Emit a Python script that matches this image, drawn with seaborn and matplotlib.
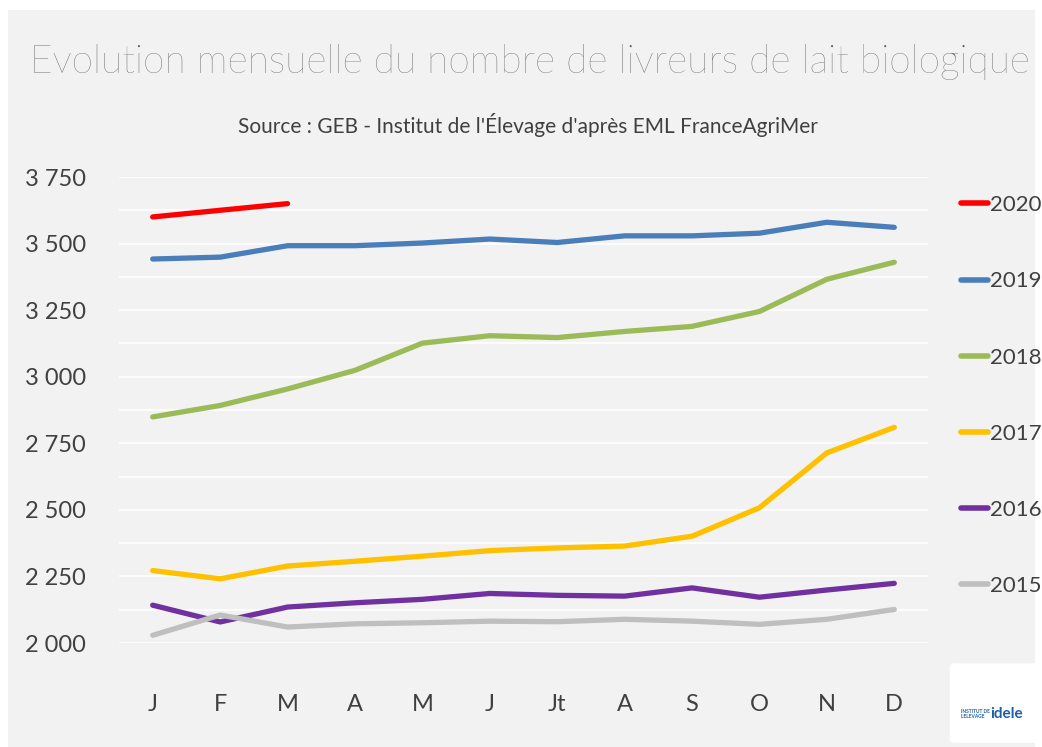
import matplotlib
matplotlib.use('Agg')
import matplotlib.pyplot as plt
import matplotlib.patches as mpatches
import seaborn as sns
import pandas as pd

mois = ['J', 'F', 'M', 'A', 'M', 'J', 'Jt', 'A', 'S', 'O', 'N', 'D']
annees = ['2020', '2019', '2018', '2017', '2016', '2015']

v2020 = [3600, 3625, 3650]
v2019 = [3442, 3449, 3492, 3492, 3502, 3517, 3504, 3529, 3529, 3539, 3580, 3561]
v2018 = [2849, 2892, 2954, 3024, 3126, 3154, 3147, 3170, 3189, 3245, 3366, 3430]
v2017 = [2272, 2241, 2289, 2307, 2326, 2347, 2357, 2364, 2401, 2508, 2714, 2810]
v2016 = [2142, 2079, 2135, 2151, 2164, 2186, 2179, 2176, 2207, 2172, 2199, 2224]
v2015 = [2029, 2105, 2060, 2072, 2076, 2082, 2080, 2089, 2082, 2070, 2089, 2126]

couleurs = ['#FF0000', '#4A7EBB', '#9BBB59', '#FFC000', '#7030A0', '#BFBFBF']

series = [v2020, v2019, v2018, v2017, v2016, v2015]
rows = []
for annee, vals in zip(annees, series):
    for i, v in enumerate(vals):
        rows.append({'mois': i, 'annee': annee, 'livreurs': v})
df = pd.DataFrame(rows)

sns.set_style('white')
plt.rcParams['font.family'] = ['Lato', 'DejaVu Sans']

W, H = 1042, 747
fig = plt.figure(figsize=(W / 100, H / 100), dpi=100)
fig.patch.set_facecolor('white')
fond = mpatches.Rectangle((8 / W, 0), (1035 - 8) / W, (H - 10) / H,
                          transform=fig.transFigure, facecolor='#F2F2F2',
                          edgecolor='none', zorder=-10)
fig.add_artist(fond)

ax = fig.add_axes([119 / W, 1 - 643 / H, (928 - 119) / W, (643 - 177) / H])
ax.set_zorder(5)
ax.set_facecolor('#F2F2F2')

sns.lineplot(data=df, x='mois', y='livreurs', hue='annee', hue_order=annees,
             palette=couleurs, linewidth=3.8, ax=ax, legend=False, sort=False,
             solid_capstyle='round')

ax.set_xlim(-0.5, 11.5)
ax.set_ylim(2000, 3750)
ax.set_yticks(range(2000, 3751, 250))
ax.set_yticklabels([f'{v // 1000} {v % 1000:03d}' for v in range(2000, 3751, 250)],
                   fontsize=17, color='#404040')
for yv in range(2000, 3751, 125):
    ax.axhline(yv, color='white', linewidth=1.2, zorder=0.5)
ax.set_xticks(range(12))
ax.set_xticklabels(mois, fontsize=17, color='#404040')
ax.set_xticks([i - 0.5 for i in range(13)], minor=True)
ax.tick_params(axis='x', which='major', length=0, pad=37)
ax.tick_params(axis='x', which='minor', length=9, color='white', width=1.2)
ax.tick_params(axis='y', length=0, pad=24)
for s in ax.spines.values():
    s.set_visible(False)
ax.set_xlabel('')
ax.set_ylabel('')

# légende
handles = [plt.Line2D([], [], color=c, linewidth=4, solid_capstyle='round') for c in couleurs]
fig.legend(handles, annees, loc='upper left', bbox_to_anchor=(950 / W, 1 - 184 / H),
           frameon=False, fontsize=16, labelspacing=2.53, handlelength=1.2,
           handletextpad=0.1, borderpad=0, labelcolor='#404040')

fig.text(0.509, 1 - 62 / H, 'Evolution mensuelle du nombre de livreurs de lait biologique',
         ha='center', va='center', fontsize=28, color='#5F5F5F', fontweight='light')
fig.text(0.507, 1 - 125 / H, "Source : GEB - Institut de l'Élevage d'après EML FranceAgriMer",
         ha='center', va='center', fontsize=15, color='#404040')

# logo
logo = mpatches.FancyBboxPatch((955 / W, 8 / H), 80 / W, 72 / H,
                               boxstyle='round,pad=0.005', transform=fig.transFigure,
                               facecolor='white', edgecolor='none', zorder=1)
fig.add_artist(logo)
fig.text(990 / W, 1 - 714 / H, 'idele', ha='left', va='center', fontsize=11,
         color='#1F5FA8', fontweight='bold')
fig.text(961 / W, 1 - 714 / H, "INSTITUT DE\nL'ELEVAGE", ha='left', va='center', fontsize=3.5,
         color='#1F5FA8', fontweight='bold', linespacing=1.0)

plt.savefig('out.png', dpi=100)
